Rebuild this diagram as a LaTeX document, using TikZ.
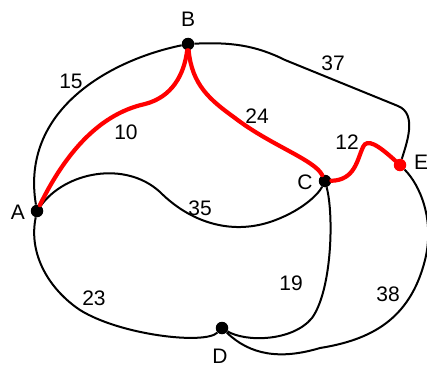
\documentclass[tikz,border=0pt]{standalone}
\usepackage{fontspec}
\setmainfont{Liberation Sans}
\usetikzlibrary{positioning}

\begin{document}
\begin{tikzpicture}[x=1pt,y=-1pt,
  vertex/.style={circle,fill=black,inner sep=0pt,minimum size=12.5pt},
  lbl/.style={inner sep=0pt,font=\fontsize{21}{25}\selectfont},
  edge/.style={line width=2pt},
  route/.style={line width=4.2pt,red,line cap=round}]
\useasboundingbox (0,0) rectangle (427,369);
% vertices
\node[vertex] (A) at (37,211) {};
\node[vertex] (B) at (188,44) {};
\node[vertex] (C) at (325,181) {};
\node[vertex] (D) at (222,328) {};
\node[vertex,fill=red] (E) at (400,165) {};
\node[lbl] (lA) at (18,212) {A};
\node[lbl] (lB) at (188,19) {B};
\node[lbl] (lC) at (305,182) {C};
\node[lbl] (lD) at (220,356) {D};
\node[lbl] (lE) at (421,162) {E};
% black edges
\draw[edge] (A) .. controls (20,110) and (110,60) .. (B);
\draw[edge] (B) .. controls (230,42) and (255,45) .. (285,60) -- (398,106)
  .. controls (418,114) and (406,145) .. (E);
\draw[edge] (A) .. controls (65,172) and (125,160) .. (160,192)
  .. controls (190,222) and (230,235) .. (270,222)
  .. controls (300,212) and (318,195) .. (C);
\draw[edge] (C) .. controls (334,215) and (332,290) .. (312,318)
  .. controls (292,342) and (245,342) .. (D);
\draw[edge] (A) .. controls (28,255) and (50,290) .. (80,310)
  .. controls (120,335) and (205,345) .. (D);
\draw[edge] (D) .. controls (250,355) and (280,360) .. (320,348)
  .. controls (370,340) and (410,320) .. (425,260)
  .. controls (435,220) and (420,185) .. (E);
% shortest route
\draw[route] (A) .. controls (62,160) and (95,115) .. (145,104)
  .. controls (172,97) and (184,75) .. (B);
\draw[route] (B) .. controls (192,85) and (210,100) .. (235,118)
  .. controls (270,145) and (315,160) .. (C);
\draw[route] (C) .. controls (355,180) and (357,160) .. (363,147)
  .. controls (367,138) and (378,145) .. (E);
% weights
\node[lbl] (w15) at (71,81) {15};
\node[lbl] (w10) at (126,132) {10};
\node[lbl] (w24) at (257,116) {24};
\node[lbl] (w37) at (333,63) {37};
\node[lbl] (w12) at (347,142) {12};
\node[lbl] (w35) at (200,208) {35};
\node[lbl] (w23) at (94,298) {23};
\node[lbl] (w19) at (291,283) {19};
\node[lbl] (w38) at (388,294) {38};
\end{tikzpicture}
\end{document}
